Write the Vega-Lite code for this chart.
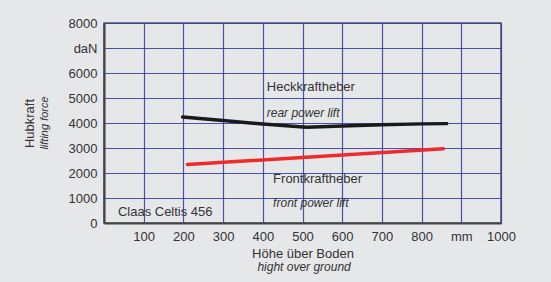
{
  "$schema": "https://vega.github.io/schema/vega-lite/v6.json",
  "width": 397,
  "height": 200,
  "autosize": {"type": "none"},
  "padding": {"left": 104, "top": 23, "right": 50, "bottom": 59},
  "background": "#e6e7e9",
  "config": {
    "font": "Liberation Sans",
    "view": {"stroke": "#555555", "strokeWidth": 1.5},
    "axis": {
      "grid": true,
      "gridColor": "#3640a8",
      "gridWidth": 1.2,
      "gridOpacity": 0.9,
      "domainColor": "#444444",
      "domainWidth": 2,
      "ticks": false,
      "labelFontSize": 13,
      "labelColor": "#333333",
      "labelOverlap": false,
      "labelFlush": false,
      "titleFontSize": 13,
      "titleFontWeight": "normal",
      "titleColor": "#333333"
    }
  },
  "datasets": {
    "lines": [
      {"series": "rear", "x": 198, "y": 4240},
      {"series": "rear", "x": 300, "y": 4100},
      {"series": "rear", "x": 400, "y": 3960},
      {"series": "rear", "x": 510, "y": 3830},
      {"series": "rear", "x": 600, "y": 3880},
      {"series": "rear", "x": 700, "y": 3930},
      {"series": "rear", "x": 800, "y": 3965},
      {"series": "rear", "x": 863, "y": 3975},
      {"series": "front", "x": 210, "y": 2340},
      {"series": "front", "x": 855, "y": 2970}
    ],
    "notes": [
      {"kind": "plain", "x": 410, "y": 5440, "text": "Heckkraftheber"},
      {"kind": "plain", "x": 426, "y": 1760, "text": "Frontkraftheber"},
      {"kind": "plain", "x": 35, "y": 440, "text": "Claas Celtis 456"},
      {"kind": "italic", "x": 410, "y": 4400, "text": "rear power lift"},
      {"kind": "italic", "x": 426, "y": 800, "text": "front power lift"},
      {"kind": "xsub", "x": 504, "y": -1760, "text": "hight over ground"},
      {"kind": "ysub", "x": -148, "y": 4000, "text": "lifting force"}
    ]
  },
  "encoding": {
    "x": {
      "field": "x", "type": "quantitative",
      "scale": {"domain": [0, 1000], "nice": false},
      "axis": {
        "values": [0, 100, 200, 300, 400, 500, 600, 700, 800, 900, 1000],
        "format": "d",
        "labelExpr": "datum.value == 0 ? '' : datum.value == 900 ? 'mm' : datum.label",
        "labelPadding": 7,
        "title": "Höhe über Boden",
        "titlePadding": 4
      }
    },
    "y": {
      "field": "y", "type": "quantitative",
      "scale": {"domain": [0, 8000], "nice": false},
      "axis": {
        "values": [0, 1000, 2000, 3000, 4000, 5000, 6000, 7000, 8000],
        "format": "d",
        "labelExpr": "datum.value == 7000 ? 'daN' : datum.label",
        "labelPadding": 7,
        "title": "Hubkraft",
        "titlePadding": 32
      }
    }
  },
  "layer": [
    {
      "data": {"name": "lines"},
      "mark": {"type": "line", "strokeWidth": 3.5, "strokeCap": "round"},
      "encoding": {
        "color": {
          "field": "series", "type": "nominal",
          "scale": {"domain": ["rear", "front"], "range": ["#1a1a1a", "#ee2b2b"]},
          "legend": null
        }
      }
    },
    {
      "data": {"name": "notes"},
      "transform": [{"filter": "datum.kind == 'plain'"}],
      "mark": {"type": "text", "align": "left", "baseline": "middle", "fontSize": 13, "color": "#333333"},
      "encoding": {"text": {"field": "text"}}
    },
    {
      "data": {"name": "notes"},
      "transform": [{"filter": "datum.kind == 'italic'"}],
      "mark": {"type": "text", "align": "left", "baseline": "middle", "fontSize": 12, "fontStyle": "italic", "color": "#333333"},
      "encoding": {"text": {"field": "text"}}
    },
    {
      "data": {"name": "notes"},
      "transform": [{"filter": "datum.kind == 'xsub'"}],
      "mark": {"type": "text", "align": "center", "baseline": "middle", "fontSize": 12, "fontStyle": "italic", "color": "#333333"},
      "encoding": {"text": {"field": "text"}}
    },
    {
      "data": {"name": "notes"},
      "transform": [{"filter": "datum.kind == 'ysub'"}],
      "mark": {"type": "text", "align": "center", "baseline": "middle", "angle": 270, "fontSize": 11, "fontStyle": "italic", "color": "#333333"},
      "encoding": {"text": {"field": "text"}}
    }
  ]
}
